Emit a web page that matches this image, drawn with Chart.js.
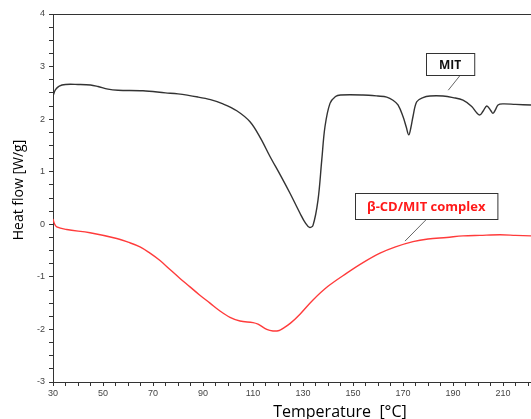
<!DOCTYPE html>
<html>
<head>
<meta charset="utf-8">
<script src="https://cdn.jsdelivr.net/npm/chart.js@4.4.1/dist/chart.umd.min.js"></script>
<style>
  html, body { margin: 0; padding: 0; background: #fff; }
  #wrap { width: 531px; height: 419px; position: relative; }
</style>
</head>
<body>
<div id="wrap"><canvas id="dscChart"></canvas></div>
<script>
// DSC curves
const mitTemps = [30, 31, 32.5, 35, 40, 45, 48, 52, 56, 66, 75, 80, 88, 93, 98, 103.5, 108.8, 113, 116.8, 121, 124.8, 128.8, 131, 132.6, 134, 136, 137.5, 138.8, 140.8, 143, 145, 154, 160, 163.5, 166, 168, 170, 171.3, 172.3, 173.2, 174, 175.5, 178, 180.8, 186, 190, 194, 197.5, 199.5, 200.8, 202, 203.5, 205, 206, 207, 208, 210, 215, 221.2];
const mitFlow  = [2.44, 2.56, 2.63, 2.66, 2.66, 2.65, 2.62, 2.57, 2.55, 2.54, 2.50, 2.48, 2.42, 2.37, 2.29, 2.16, 1.95, 1.64, 1.29, 0.93, 0.59, 0.21, 0.02, -0.06, -0.02, 0.46, 1.22, 1.86, 2.30, 2.43, 2.46, 2.46, 2.44, 2.42, 2.36, 2.27, 2.05, 1.85, 1.70, 1.85, 2.05, 2.33, 2.41, 2.44, 2.44, 2.41, 2.36, 2.24, 2.12, 2.08, 2.15, 2.25, 2.17, 2.11, 2.18, 2.27, 2.29, 2.28, 2.27];

const complexTemps = [30, 30.5, 31.5, 35.5, 44.8, 55.5, 60, 64.8, 68.8, 72.8, 76.8, 80.8, 84.8, 88.5, 92.8, 96.8, 100.8, 104.8, 110, 112, 115.5, 118, 120.5, 122, 125, 128.8, 134, 140, 147.5, 154, 160.8, 167, 174, 180, 187.5, 194, 200.8, 208.8, 215, 221.2];
const complexFlow  = [0.10, 0.02, -0.05, -0.10, -0.16, -0.27, -0.34, -0.43, -0.55, -0.69, -0.86, -1.03, -1.19, -1.34, -1.50, -1.65, -1.77, -1.84, -1.87, -1.90, -2.00, -2.03, -2.02, -1.98, -1.88, -1.71, -1.44, -1.18, -0.93, -0.73, -0.55, -0.43, -0.33, -0.28, -0.25, -0.22, -0.21, -0.20, -0.21, -0.22];

const xTickLabels = [30, 50, 70, 90, 110, 130, 150, 170, 190, 210];
const yTickLabels = [-3, -2, -1, 0, 1, 2, 3, 4];
const xMinorStep = 5;
const yMinorStep = 0.25;

// callout labels: [box centre x, box centre y, leader end x, leader end y] in data units
const calloutNames = ['MIT', 'β-CD/MIT complex'];
const calloutColors = ['#111', '#ff1a1a'];
const calloutAnchors = [[188.8, 3.05, 188.1, 2.55], [179.3, 0.35, 170.8, -0.32]];

function toPoints(xs, ys) {
    return xs.map((x, i) => ({ x: x, y: ys[i] }));
}

const frameAndLabels = {
    id: 'frameAndLabels',
    afterDatasetsDraw(chart) {
        const ctx = chart.ctx;
        const area = chart.chartArea;
        const xs = chart.scales.x;
        const ys = chart.scales.y;
        ctx.save();
        // top frame line
        ctx.strokeStyle = '#333';
        ctx.lineWidth = 1;
        ctx.beginPath();
        ctx.moveTo(area.left, area.top + 0.5);
        ctx.lineTo(area.right, area.top + 0.5);
        ctx.stroke();

        // callouts
        calloutNames.forEach((name, i) => {
            const a = calloutAnchors[i];
            const cx = xs.getPixelForValue(a[0]);
            const cy = ys.getPixelForValue(a[1]);
            ctx.font = 'bold ' + (i === 0 ? 12 : 13) + 'px "Open Sans", sans-serif';
            const w = ctx.measureText(name).width + (i === 0 ? 26 : 24);
            const h = i === 0 ? 22 : 26;
            const bx = Math.round(cx - w / 2) + 0.5;
            const by = Math.round(cy - h / 2) + 0.5;
            // leader line
            ctx.strokeStyle = '#666';
            ctx.beginPath();
            ctx.moveTo(cx + (i === 0 ? 10 : 0), by + h);
            ctx.lineTo(xs.getPixelForValue(a[2]), ys.getPixelForValue(a[3]));
            ctx.stroke();
            ctx.fillStyle = '#fff';
            ctx.fillRect(bx, by, w, h);
            ctx.strokeStyle = '#333';
            ctx.strokeRect(bx, by, w, h);
            ctx.fillStyle = calloutColors[i];
            ctx.textAlign = 'center';
            ctx.textBaseline = 'middle';
            ctx.fillText(name, cx, by + h / 2 + 1);
        });

        // axis titles
        ctx.fillStyle = '#000';
        ctx.font = '16px "Open Sans", sans-serif';
        ctx.textAlign = 'center';
        ctx.textBaseline = 'alphabetic';
        ctx.fillText('Temperature  [°C]', 340, 417);
        ctx.translate(23, 190);
        ctx.rotate(-Math.PI / 2);
        ctx.font = '14px "Open Sans", sans-serif';
        ctx.fillText('Heat flow [W/g]', 0, 0);
        ctx.restore();
    }
};

const axisStyle = {
    grid: { display: true, drawOnChartArea: false, drawTicks: true, tickLength: 4, color: '#333' },
    border: { display: true, color: '#333', width: 1 }
};

new Chart(document.getElementById('dscChart'), {
    type: 'line',
    data: {
        datasets: [
            {
                label: 'MIT',
                data: toPoints(mitTemps, mitFlow),
                borderColor: '#333',
                borderWidth: 1.4,
                pointRadius: 0,
                tension: 0.35
            },
            {
                label: 'β-CD/MIT complex',
                data: toPoints(complexTemps, complexFlow),
                borderColor: '#ff3b3b',
                borderWidth: 1.4,
                pointRadius: 0,
                tension: 0.35
            }
        ]
    },
    options: {
        responsive: true,
        maintainAspectRatio: false,
        animation: false,
        layout: { padding: { left: 0, right: 0, top: 14, bottom: 0 } },
        plugins: { legend: { display: false }, tooltip: { enabled: false } },
        scales: {
            x: {
                type: 'linear',
                min: 30,
                max: 221.2,
                afterBuildTicks: scale => {
                    const t = [];
                    for (let v = 30; v <= 220; v += xMinorStep) t.push({ value: v });
                    scale.ticks = t;
                },
                afterFit: scale => { scale.height = 37; },
                ticks: {
                    autoSkip: false,
                    maxRotation: 0,
                    padding: 2,
                    color: '#444',
                    font: { family: '"Liberation Sans", Arial, sans-serif', size: 9 },
                    callback: v => xTickLabels.includes(v) ? String(v) : ''
                },
                ...axisStyle
            },
            y: {
                type: 'linear',
                min: -3,
                max: 4,
                afterBuildTicks: scale => {
                    const t = [];
                    for (let v = -3; v <= 4.001; v += yMinorStep) t.push({ value: Math.round(v * 100) / 100 });
                    scale.ticks = t;
                },
                afterFit: scale => { scale.width = 53; },
                ticks: {
                    autoSkip: false,
                    padding: 4,
                    color: '#444',
                    font: { family: '"Liberation Sans", Arial, sans-serif', size: 9 },
                    callback: v => yTickLabels.includes(v) ? String(v) : ''
                },
                ...axisStyle
            }
        }
    },
    plugins: [frameAndLabels]
});
</script>
</body>
</html>
